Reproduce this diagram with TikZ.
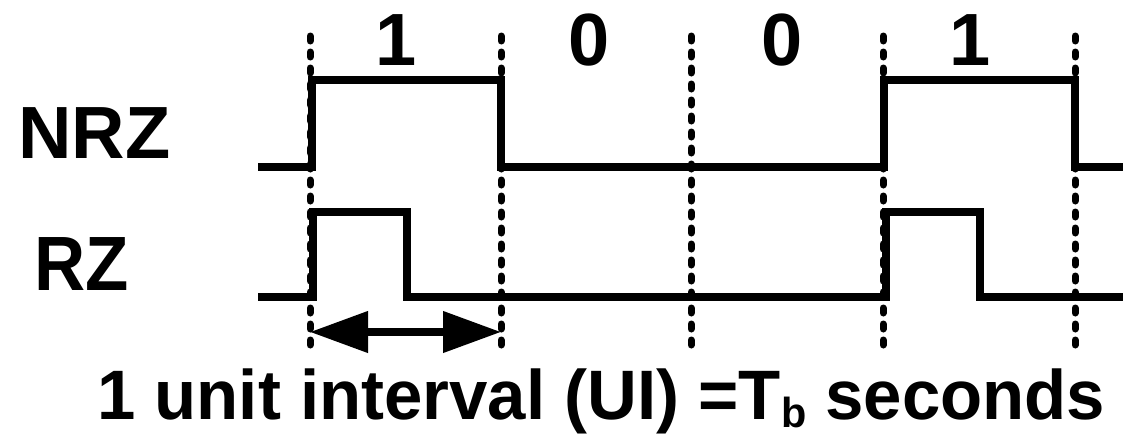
\documentclass[tikz,border=0pt]{standalone}
\usepackage{fontspec}
\setmainfont{Liberation Sans}
\usetikzlibrary{arrows.meta}
\begin{document}
\begin{tikzpicture}[x=1pt,y=-1pt,
  wave/.style={line width=8.5pt, line join=miter},
  grid/.style={line width=7pt, line cap=round, dash pattern=on 5pt off 11pt},
  lab/.style={font=\fontsize{74}{74}\selectfont\bfseries, inner sep=0pt},
  dim/.style={line width=7.5pt, {Triangle[length=58pt,width=40pt]}-{Triangle[length=58pt,width=40pt]}, shorten <=-2pt, shorten >=-2pt}]
\useasboundingbox (0,0) rectangle (1123,434);
% bit boundaries
\foreach \i/\x in {a/310,b/501,c/691,d/883,e/1075}{
  \coordinate (t\i) at (\x,36);
  \coordinate (b\i) at (\x,350);
  \draw[grid] (t\i) -- (b\i);
}
% bit labels
\node[lab, anchor=base] (bit1) at (396,65) {1};
\node[lab, anchor=base] (bit2) at (589,65) {0};
\node[lab, anchor=base] (bit3) at (782,65) {0};
\node[lab, anchor=base] (bit4) at (970,65) {1};
% signal names
\node[lab, anchor=base west] (nrz) at (18,158) {NRZ};
\node[lab, anchor=base west, font=\fontsize{77}{77}\selectfont\bfseries] (rz) at (34,290) {\scalebox{0.92}[1]{RZ}};
% NRZ waveform
\draw[wave] (258,167) -- (312,167) -- (312,80) -- (501,80) -- (501,167)
  -- (884,167) -- (884,80) -- (1075,80) -- (1075,167) -- (1123,167);
% RZ waveform
\draw[wave] (258,297) -- (313,297) -- (313,212) -- (407,212) -- (407,297)
  -- (886,297) -- (886,212) -- (980,212) -- (980,297) -- (1123,297);
% unit interval arrow
\coordinate (ul) at (312,332);
\coordinate (ur) at (499,332);
\draw[dim] (ul) -- (ur);
\node[anchor=base west, inner sep=0pt, font=\fontsize{70}{70}\selectfont\bfseries] (ui) at (97,419)
  {\scalebox{0.985}[1]{1 unit interval (UI) =T\raisebox{-8pt}{\fontsize{42}{42}\selectfont b} seconds}};
\end{tikzpicture}
\end{document}
